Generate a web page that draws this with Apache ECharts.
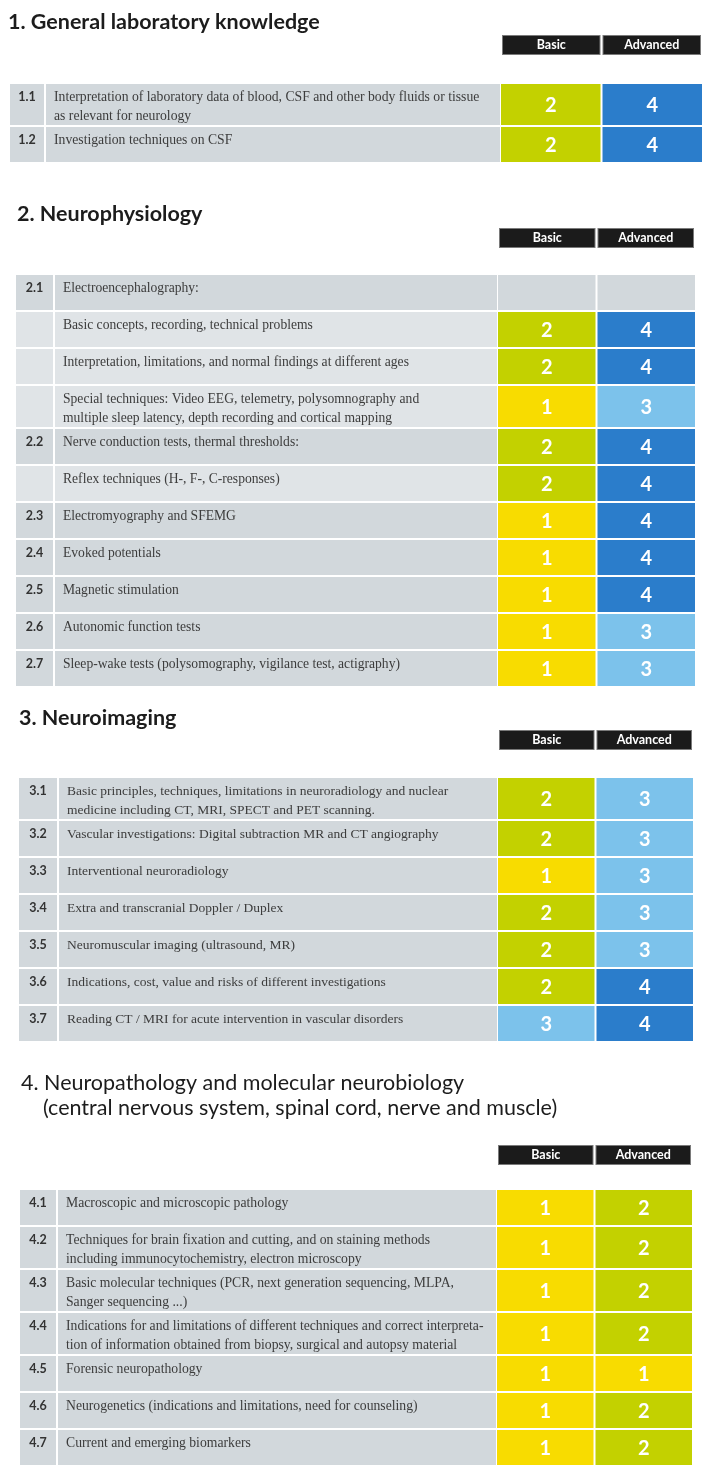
<!DOCTYPE html>
<html><head><meta charset="utf-8">
<script src="https://cdn.jsdelivr.net/npm/echarts@6/dist/echarts.min.js"></script>
<style>html,body{margin:0;padding:0;background:#fff}#c{width:709px;height:1472px}</style>
</head><body><div id="c"></div>
<script>
// ---------------- DATA ----------------
const columnHeaders = ['Basic', 'Advanced'];

const sectionTitles = [
  '1. General laboratory knowledge',
  '2. Neurophysiology',
  '3. Neuroimaging',
  '4. Neuropathology and molecular neurobiology'
];
const section4Subtitle = '(central nervous system, spinal cord, nerve and muscle)';

const s1Ids = ['1.1', '1.2'];
const s1Items = [
  'Interpretation of laboratory data of blood, CSF and other body fluids or tissue\nas relevant for neurology',
  'Investigation techniques on CSF'
];
const s1Basic = [2, 2];
const s1Advanced = [4, 4];

const s2Ids = ['2.1', '', '', '', '2.2', '', '2.3', '2.4', '2.5', '2.6', '2.7'];
const s2Items = [
  'Electroencephalography:',
  'Basic concepts, recording, technical problems',
  'Interpretation, limitations, and normal findings at different ages',
  'Special techniques: Video EEG, telemetry, polysomnography and\nmultiple sleep latency, depth recording and cortical mapping',
  'Nerve conduction tests, thermal thresholds:',
  'Reflex techniques (H-, F-, C-responses)',
  'Electromyography and SFEMG',
  'Evoked potentials',
  'Magnetic stimulation',
  'Autonomic function tests',
  'Sleep-wake tests (polysomography, vigilance test, actigraphy)'
];
const s2Basic = [null, 2, 2, 1, 2, 2, 1, 1, 1, 1, 1];
const s2Advanced = [null, 4, 4, 3, 4, 4, 4, 4, 4, 3, 3];

const s3Ids = ['3.1', '3.2', '3.3', '3.4', '3.5', '3.6', '3.7'];
const s3Items = [
  'Basic principles, techniques, limitations in neuroradiology and nuclear\nmedicine including CT, MRI, SPECT and PET scanning.',
  'Vascular investigations: Digital subtraction MR and CT angiography',
  'Interventional neuroradiology',
  'Extra and transcranial Doppler / Duplex',
  'Neuromuscular imaging (ultrasound, MR)',
  'Indications, cost, value and risks of different investigations',
  'Reading CT / MRI for acute intervention in vascular disorders'
];
const s3Basic = [2, 2, 1, 2, 2, 2, 3];
const s3Advanced = [3, 3, 3, 3, 3, 4, 4];

const s4Ids = ['4.1', '4.2', '4.3', '4.4', '4.5', '4.6', '4.7'];
const s4Items = [
  'Macroscopic and microscopic pathology',
  'Techniques for brain fixation and cutting, and on staining methods\nincluding immunocytochemistry, electron microscopy',
  'Basic molecular techniques (PCR, next generation sequencing, MLPA,\nSanger sequencing ...)',
  'Indications for and limitations of different techniques and correct interpreta-\ntion of information obtained from biopsy, surgical and autopsy material',
  'Forensic neuropathology',
  'Neurogenetics (indications and limitations, need for counseling)',
  'Current and emerging biomarkers'
];
const s4Basic = [1, 1, 1, 1, 1, 1, 1];
const s4Advanced = [2, 2, 2, 2, 1, 2, 2];

// ---------------- STYLE / LAYOUT ----------------
const LEVEL_COLORS = {1: '#f8dc00', 2: '#c3d100', 3: '#7cc2eb', 4: '#2b7dcb'};
const DARK = '#d2d8dc', LIGHT = '#e0e4e7';
const ROW1 = 37, ROW2 = 43, GAP = 2;
const TITLE_FONT = 'Lato';
const TEXT_FONT = 'Liberation Serif';

const layouts = [
  {titleTop: 6, titleLeft: 3, titleWeight: 'bold', tableTop: 84, tableLeft: 10, numRight: 44, descLeft: 46, gridLeft: 501, gridRight: 702, headerGap: 30, textSize: 13.7},
  {titleTop: 198, titleLeft: 12, titleWeight: 'bold', tableTop: 275, tableLeft: 16, numRight: 53, descLeft: 55, gridLeft: 498, gridRight: 695, headerGap: 28, textSize: 13.6},
  {titleTop: 702, titleLeft: 14, titleWeight: 'bold', tableTop: 778, tableLeft: 19, numRight: 57, descLeft: 59, gridLeft: 498, gridRight: 693, headerGap: 29, textSize: 13.5},
  {titleTop: 1067, titleLeft: 16, titleWeight: 'normal', tableTop: 1190, tableLeft: 20, numRight: 56, descLeft: 58, gridLeft: 497, gridRight: 692, headerGap: 26, textSize: 13.7}
];

const sections = [
  {ids: s1Ids, items: s1Items, basic: s1Basic, adv: s1Advanced},
  {ids: s2Ids, items: s2Items, basic: s2Basic, adv: s2Advanced},
  {ids: s3Ids, items: s3Items, basic: s3Basic, adv: s3Advanced},
  {ids: s4Ids, items: s4Items, basic: s4Basic, adv: s4Advanced}
];

// ---------------- BUILD ----------------
const titles = [], grids = [], xAxes = [], yAxes = [], series = [];

sections.forEach((sec, si) => {
  const L = layouts[si];
  let acc = 0;
  const spans = sec.items.map(t => {
    const h = t.indexOf('\n') >= 0 ? ROW2 : ROW1;
    const s = [acc, acc + h - GAP];
    acc += h;
    return s;
  });
  const total = acc - GAP;

  titles.push({
    text: sectionTitles[si], left: L.titleLeft, top: L.titleTop,
    textStyle: {fontFamily: TITLE_FONT, fontWeight: L.titleWeight, fontSize: 21.5, color: '#1c1c1c'}
  });
  if (si === 3) {
    titles.push({
      text: section4Subtitle, left: 38, top: L.titleTop + 25,
      textStyle: {fontFamily: TITLE_FONT, fontWeight: L.titleWeight, fontSize: 21.5, color: '#1c1c1c'}
    });
  }

  const gw = L.gridRight - L.gridLeft;
  grids.push({left: L.gridLeft, top: L.tableTop, width: gw, height: total});
  xAxes.push({
    gridIndex: si, type: 'category', data: columnHeaders, position: 'top',
    axisLine: {show: false}, axisTick: {show: false}, splitLine: {show: false},
    axisLabel: {
      interval: 0, margin: L.headerGap, color: '#ffffff', fontFamily: TITLE_FONT, fontWeight: 'bold', fontSize: 12.5,
      backgroundColor: '#1b1b1b', borderColor: '#7a7a7a', borderWidth: 1,
      width: gw / 2 - 4, height: 18, lineHeight: 18, align: 'center'
    }
  });
  yAxes.push({gridIndex: si, type: 'value', inverse: true, min: 0, max: total, show: false});

  series.push({
    type: 'custom', coordinateSystem: 'cartesian2d', xAxisIndex: si, yAxisIndex: si,
    clip: false, silent: true,
    encode: {x: 0, y: [1, 2]},
    data: spans.map(s => [0, s[0], s[1]]),
    renderItem: (params, api) => {
      const i = params.dataIndex;
      const top = api.coord([0, api.value(1)])[1];
      const bot = api.coord([0, api.value(2)])[1];
      const h = bot - top;
      const fill = sec.ids[i] ? DARK : LIGHT;
      const descRight = params.coordSys.x - 1;
      return {
        type: 'group',
        children: [
          {type: 'rect', shape: {x: L.tableLeft, y: top, width: L.numRight - L.tableLeft, height: h}, style: {fill}},
          {type: 'rect', shape: {x: L.descLeft, y: top, width: descRight - L.descLeft, height: h}, style: {fill}},
          {type: 'text', style: {text: sec.ids[i], x: (L.tableLeft + L.numRight) / 2, y: top + 13,
            align: 'center', verticalAlign: 'middle', font: 'bold 12.5px ' + TITLE_FONT, fill: '#333333'}},
          {type: 'text', style: {text: sec.items[i], x: L.descLeft + 8, y: top + 3.5, lineHeight: 19,
            align: 'left', verticalAlign: 'top', font: L.textSize + 'px "' + TEXT_FONT + '"', fill: '#3c3c3c'}}
        ]
      };
    }
  });

  const cellData = [];
  spans.forEach((s, i) => {
    cellData.push([0, s[0], s[1], sec.basic[i], i]);
    cellData.push([1, s[0], s[1], sec.adv[i], i]);
  });
  series.push({
    type: 'custom', coordinateSystem: 'cartesian2d', xAxisIndex: si, yAxisIndex: si,
    clip: false, silent: true,
    encode: {x: 0, y: [1, 2]},
    data: cellData,
    renderItem: (params, api) => {
      const c = api.value(0);
      const p0 = api.coord([c, api.value(1)]);
      const p1 = api.coord([c, api.value(2)]);
      const band = api.size([1, 0])[0];
      const v = api.value(3);
      const row = api.value(4);
      const has = v != null && !isNaN(v) && v > 0;
      const x0 = p0[0] - band / 2 + (c === 1 ? 1 : 0);
      const w = band - 1;
      const fill = has ? LEVEL_COLORS[v] : (sec.ids[row] ? DARK : LIGHT);
      const children = [{type: 'rect', shape: {x: x0, y: p0[1], width: w, height: p1[1] - p0[1]}, style: {fill}}];
      if (has) {
        children.push({type: 'text', style: {text: String(v), x: x0 + w / 2, y: (p0[1] + p1[1]) / 2 + 1,
          align: 'center', verticalAlign: 'middle', font: 'bold 20px ' + TITLE_FONT, fill: '#ffffff'}});
      }
      return {type: 'group', children};
    }
  });
});

const chart = echarts.init(document.getElementById('c'), null, {renderer: 'canvas'});
chart.setOption({
  animation: false,
  backgroundColor: '#ffffff',
  title: titles,
  grid: grids,
  xAxis: xAxes,
  yAxis: yAxes,
  series
});
</script>
</body></html>
